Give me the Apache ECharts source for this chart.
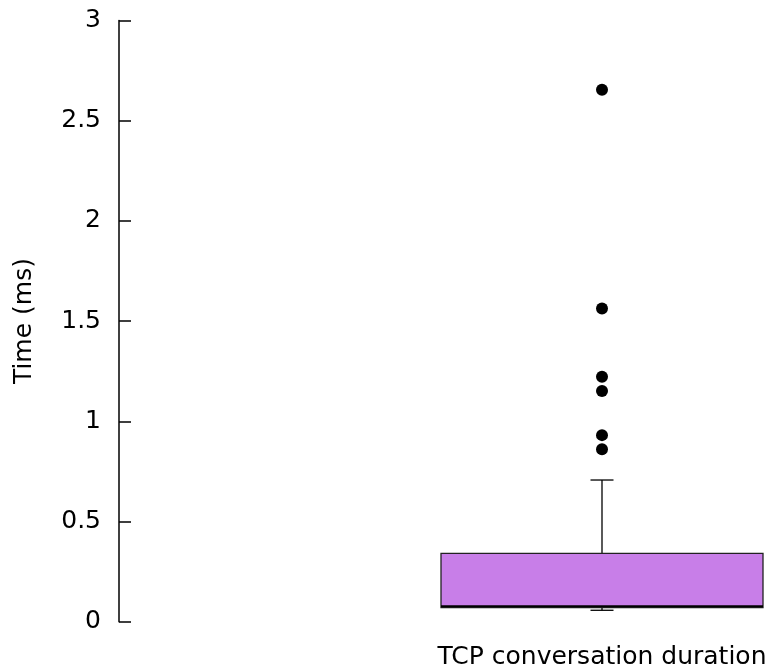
<!DOCTYPE html>
<html>
<head>
<meta charset="utf-8">
<script src="https://cdn.jsdelivr.net/npm/echarts@6/dist/echarts.min.js"></script>
<style>
  html, body { margin: 0; padding: 0; background: #fff; }
  #chart { width: 772px; height: 671px; }
</style>
</head>
<body>
<div id="chart"></div>
<script>
// box plot data
var categories = ['TCP conversation duration'];
// [low whisker, Q1, median, Q3, high whisker]
var boxStats = [[0.057, 0.070, 0.077, 0.341, 0.707]];
var outliers = [2.655, 1.563, 1.222, 1.151, 0.931, 0.861];
var yTicks = [0, 0.5, 1, 1.5, 2, 2.5, 3];

var myChart = echarts.init(document.getElementById('chart'));

var outlierData = outliers.map(function (v) { return [categories[0], v]; });
var boxData = boxStats.map(function (s, i) { return [categories[i]].concat(s); });

var option = {
    animation: false,
    backgroundColor: '#fff',
    textStyle: { fontFamily: 'DejaVu Sans' },
    grid: { left: 441, width: 322, top: 20.5, height: 601.2 },
    xAxis: {
        type: 'category',
        data: categories,
        boundaryGap: true,
        axisLine: { show: false },
        axisTick: { show: false },
        splitLine: { show: false },
        axisLabel: { color: '#000', fontSize: 25, margin: 23, fontFamily: 'DejaVu Sans' }
    },
    yAxis: {
        type: 'value',
        min: yTicks[0],
        max: yTicks[yTicks.length - 1],
        interval: 0.5,
        offset: 322,
        name: 'Time (ms)',
        nameLocation: 'middle',
        nameRotate: 90,
        nameGap: 82,
        nameTextStyle: { color: '#000', fontSize: 25, fontFamily: 'DejaVu Sans' },
        axisLine: { show: true, lineStyle: { color: '#000', width: 1.5 } },
        axisTick: { show: true, inside: true, length: 12, lineStyle: { color: '#000', width: 1.5 } },
        splitLine: { show: false },
        axisLabel: { color: '#000', fontSize: 25, margin: 18, padding: [6, 0, 0, 0], fontFamily: 'DejaVu Sans' }
    },
    series: [
        {
            type: 'custom',
            data: boxData,
            encode: { x: 0, y: [1, 2, 3, 4, 5] },
            renderItem: function (params, api) {
                var cat = api.value(0);
                var lo = api.coord([cat, api.value(1)]);
                var q1 = api.coord([cat, api.value(2)]);
                var med = api.coord([cat, api.value(3)]);
                var q3 = api.coord([cat, api.value(4)]);
                var hi = api.coord([cat, api.value(5)]);
                var bw = api.size([1, 0])[0];
                var cx = q1[0];
                var half = bw / 2;
                var cap = 11.5;
                var line = { stroke: '#000', lineWidth: 1.3 };
                return {
                    type: 'group',
                    children: [
                        { type: 'line', shape: { x1: cx, y1: q3[1], x2: cx, y2: hi[1] }, style: line },
                        { type: 'line', shape: { x1: cx - cap, y1: hi[1], x2: cx + cap, y2: hi[1] }, style: line },
                        { type: 'line', shape: { x1: cx, y1: q1[1], x2: cx, y2: lo[1] }, style: line },
                        { type: 'line', shape: { x1: cx - cap, y1: lo[1], x2: cx + cap, y2: lo[1] }, style: line },
                        {
                            type: 'rect',
                            shape: { x: cx - half, y: q3[1], width: bw, height: q1[1] - q3[1] },
                            style: { fill: '#c87ee8', stroke: '#222', lineWidth: 1.3 }
                        },
                        { type: 'line', shape: { x1: cx - half, y1: med[1], x2: cx + half, y2: med[1] }, style: { stroke: '#000', lineWidth: 2 } }
                    ]
                };
            }
        },
        {
            type: 'scatter',
            data: outlierData,
            symbol: 'circle',
            symbolSize: 12,
            itemStyle: { color: '#000', opacity: 1 }
        }
    ]
};
myChart.setOption(option);
</script>
</body>
</html>
